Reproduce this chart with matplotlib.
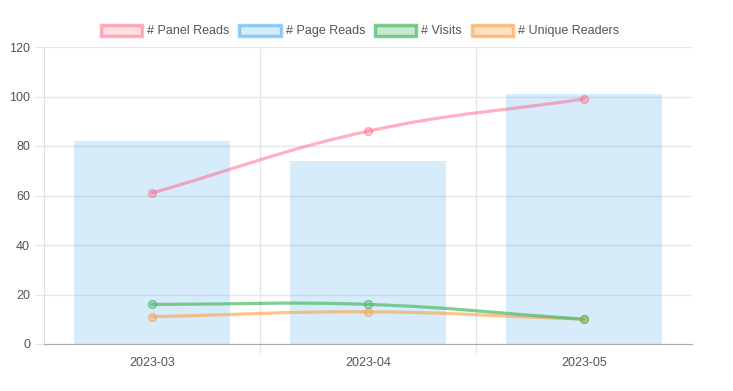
import numpy as np
import matplotlib
matplotlib.use("Agg")
import matplotlib.pyplot as plt
from matplotlib.path import Path
from matplotlib.patches import PathPatch, Patch

months = ["2023-03", "2023-04", "2023-05"]
panel_reads = [61, 86, 99]
page_reads = [82, 74, 101]
visits = [16, 16, 10]
unique_readers = [11, 13, 10]

plt.rcParams["font.family"] = ["Liberation Sans", "DejaVu Sans"]

W, H = 733, 391
fig = plt.figure(figsize=(W / 100, H / 100), dpi=100)
ax = fig.add_axes([44 / W, (H - 344) / H, (692 - 44) / W, (344 - 47) / H])

ymax = 120
x = np.arange(len(months))
ax.set_xlim(-0.5, len(months) - 0.5)
ax.set_ylim(0, ymax)

# pixel scale used for Chart.js-like spline tension
sx = 648 / len(months)
sy = 297 / ymax


def spline_path(xs, ys, tension=0.4):
    px = np.array(xs, float) * sx
    py = np.array(ys, float) * sy
    n = len(px)
    ctrl = []
    for i in range(n):
        p0 = (px[max(i - 1, 0)], py[max(i - 1, 0)])
        p1 = (px[i], py[i])
        p2 = (px[min(i + 1, n - 1)], py[min(i + 1, n - 1)])
        d01 = np.hypot(p1[0] - p0[0], p1[1] - p0[1])
        d12 = np.hypot(p2[0] - p1[0], p2[1] - p1[1])
        s01 = d01 / (d01 + d12) if d01 + d12 else 0
        s12 = d12 / (d01 + d12) if d01 + d12 else 0
        fa, fb = tension * s01, tension * s12
        prev = (p1[0] - fa * (p2[0] - p0[0]), p1[1] - fa * (p2[1] - p0[1]))
        nxt = (p1[0] + fb * (p2[0] - p0[0]), p1[1] + fb * (p2[1] - p0[1]))
        ctrl.append((prev, nxt))
    verts = [(px[0], py[0])]
    codes = [Path.MOVETO]
    for i in range(1, n):
        verts += [ctrl[i - 1][1], ctrl[i][0], (px[i], py[i])]
        codes += [Path.CURVE4] * 3
    verts = [(vx / sx, vy / sy) for vx, vy in verts]
    return Path(verts, codes)


pink = (1.0, 0.39, 0.52)
blue = (0.21, 0.64, 0.92)
green = (0.30, 0.72, 0.40)
orange = (1.0, 0.62, 0.25)

ax.bar(x, page_reads, width=0.72, color=blue + (0.2,), zorder=2)

for vals, col, alpha in [(unique_readers, orange, 0.6), (panel_reads, pink, 0.5),
                         (visits, green, 0.7)]:
    ax.add_patch(PathPatch(spline_path(x, vals), fill=False,
                           edgecolor=col + (alpha,), lw=2.3, zorder=3,
                           capstyle="round"))
    ax.plot(x, vals, ls="none", marker="o", ms=5.5, mew=1.1,
            mfc=col + (0.3,), mec=col + (alpha,), zorder=4)

# grid and axes styling
ax.set_yticks(np.arange(0, ymax + 1, 20))
ax.set_xticks(x)
ax.set_xticklabels(months)
ax.set_xticks(np.arange(0.5, len(months) - 0.5, 1), minor=True)
ax.tick_params(axis="x", which="major", length=0, pad=9, labelsize=9,
               labelcolor="#555555")
ax.tick_params(axis="x", which="minor", length=7, color="#e6e6e6", width=1)
ax.tick_params(axis="y", length=7, color="#e6e6e6", pad=3, labelsize=9,
               labelcolor="#555555")
ax.grid(axis="y", color="#e6e6e6", lw=1, zorder=0)
ax.grid(axis="x", which="minor", color="#e6e6e6", lw=1, zorder=0)
ax.set_axisbelow(True)
for s in ["top", "right"]:
    ax.spines[s].set_visible(False)
ax.spines["left"].set_color("#e0e0e0")
ax.spines["bottom"].set_color("#aaaaaa")

handles = [
    Patch(facecolor=pink + (0.2,), edgecolor=pink + (0.5,), lw=2.5, label="# Panel Reads"),
    Patch(facecolor=blue + (0.2,), edgecolor=blue + (0.5,), lw=2.5, label="# Page Reads"),
    Patch(facecolor=green + (0.3,), edgecolor=green + (0.7,), lw=2.5, label="# Visits"),
    Patch(facecolor=orange + (0.3,), edgecolor=orange + (0.6,), lw=2.5, label="# Unique Readers"),
]
fig.legend(handles=handles, loc="center", bbox_to_anchor=(360 / W, 1 - 31 / H),
           ncol=4, frameon=False, fontsize=9, handlelength=3.3,
           handleheight=1.0, handletextpad=0.4, columnspacing=0.8,
           labelcolor="#555555")

fig.savefig("out.png", dpi=100)
